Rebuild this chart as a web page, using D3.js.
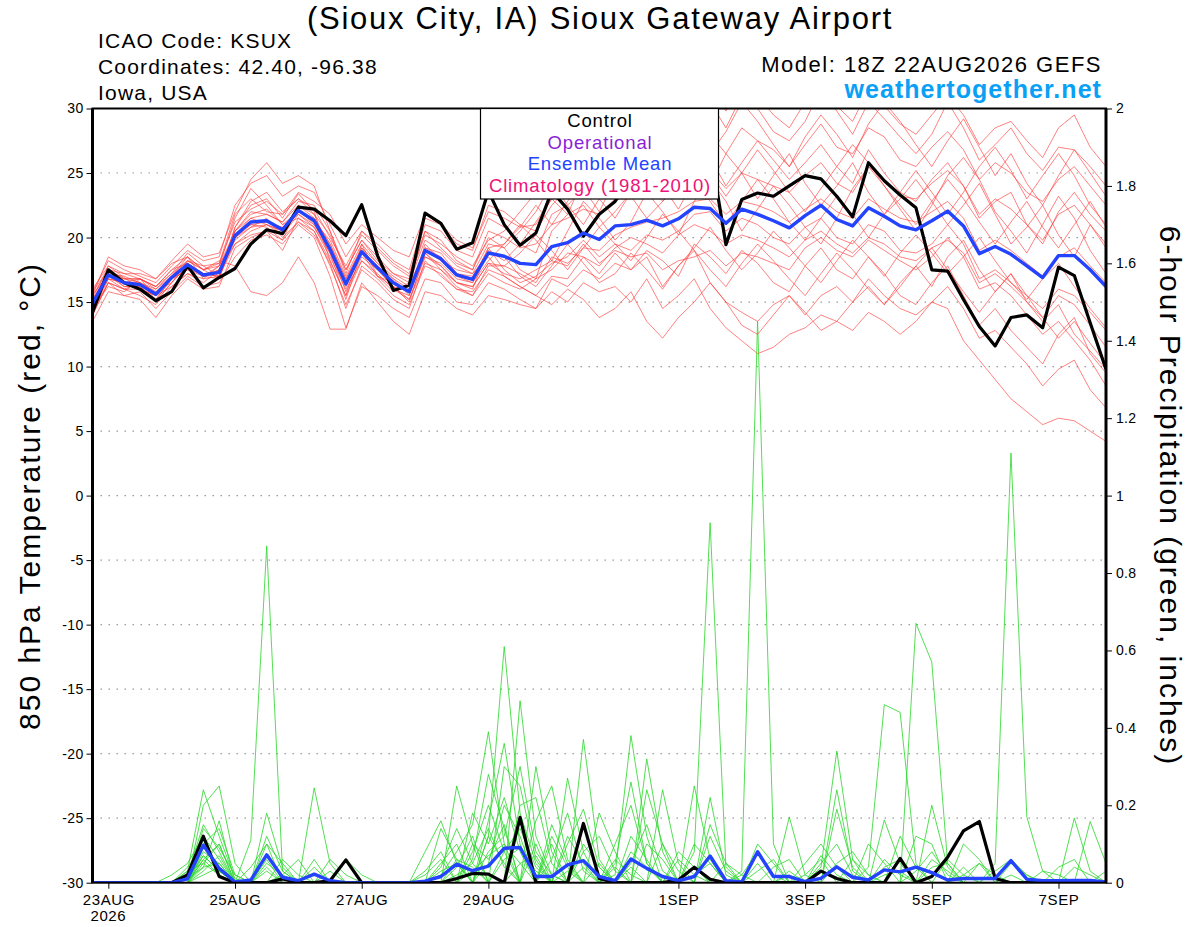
<!DOCTYPE html>
<html><head><meta charset="utf-8">
<script src="https://cdn.jsdelivr.net/npm/d3@7"></script>
<style>
body{margin:0;background:#fff}
svg{display:block}
text{font-family:"Liberation Sans",Arial,Helvetica,sans-serif}
</style>
</head><body>
<svg id="chart" width="1200" height="927"></svg>
<script>
// ---------------- DATA ----------------
const runStart = "2026-08-22T18:00:00Z";   // first forecast step
const stepHours = 6;
const xTickDates  = ["2026-08-23","2026-08-25","2026-08-27","2026-08-29","2026-09-01","2026-09-03","2026-09-05","2026-09-07"];
const xTickLabels = ["23AUG","25AUG","27AUG","29AUG","1SEP","3SEP","5SEP","7SEP"];
const tempTicks   = [-30,-25,-20,-15,-10,-5,0,5,10,15,20,25,30];
const gridTemps   = [-25,-20,-15,-10,-5,0,5,10,15,20,25];
const precipTicks = [0,0.2,0.4,0.6,0.8,1,1.2,1.4,1.6,1.8,2];

const titleText = "(Sioux City, IA) Sioux Gateway Airport";
const infoLeft  = ["ICAO Code: KSUX","Coordinates: 42.40, -96.38","Iowa, USA"];
const modelText = "Model: 18Z 22AUG2026 GEFS";
const siteText  = "weathertogether.net";
const legendItems = ["Control","Operational","Ensemble Mean","Climatology (1981-2010)"];

// 850 hPa temperature, control run (black)
const controlTemp = [14.2,17.5,16.5,16.0,15.1,15.8,17.8,16.1,16.9,17.6,19.5,20.6,20.3,
 22.35,22.2,21.3,20.15,22.55,18.6,15.9,16.3,21.9,21.1,19.1,19.6,23.6,
 21.0,19.4,20.35,23.6,22.2,20.1,21.8,22.8,24.5,25.5,24.8,25.6,26.2,
 26.9,19.45,22.95,23.45,23.2,24.0,24.8,24.55,23.2,21.6,25.8,24.4,23.3,
 22.3,17.5,17.4,15.2,13.1,11.6,13.8,14.0,13.0,17.7,17.05,13.4,9.8];
// ensemble mean (blue)
const meanTemp = [14.9,17.1,16.5,16.35,15.6,16.9,17.9,17.1,17.3,20.15,21.2,21.3,20.6,
 22.1,21.3,19.1,16.4,18.9,17.65,16.5,15.8,19.0,18.35,17.1,16.75,18.8,
 18.55,18.0,17.9,19.3,19.6,20.35,19.85,20.9,21.0,21.35,20.9,21.45,22.35,
 22.25,21.1,22.2,21.8,21.3,20.75,21.7,22.5,21.4,20.9,22.3,21.65,20.9,
 20.6,21.3,22.05,20.9,18.75,19.3,18.7,17.8,16.9,18.6,18.6,17.5,16.2];
// ensemble members (red)
const memberTemp = [
 [15.2,17.8,16.9,16.0,15.1,16.5,18.2,17.5,16.8,20.8,22.5,23.0,21.5, 23.4,22.0,18.2,15.5,19.5,17.0,15.8,16.5,20.5,19.8,18.2,17.5,20.0, 19.2,17.5,16.8,20.5,21.8,22.5,20.8,22.0,23.5,24.2,22.8,24.0,25.5, 26.2,24.0,25.8,27.5,26.0,24.5,25.8,27.2,25.5,24.2,26.8,25.0,23.5, 22.8,24.5,25.8,24.0,21.5,22.8,23.5,21.0,19.5,22.0,23.5,21.8,20.5],
 [14.5,16.2,15.8,16.8,16.2,17.5,18.5,16.8,17.8,21.5,23.8,22.5,21.0, 21.5,20.5,17.8,14.8,17.5,16.5,15.2,14.5,18.2,17.0,16.0,15.8,17.5, 17.0,16.2,15.5,17.0,16.8,18.5,17.2,18.8,17.5,19.0,18.2,17.0,19.5, 18.5,17.2,19.0,18.0,16.5,15.8,17.8,19.2,17.5,16.8,18.5,17.2,15.5, 14.8,16.5,17.8,15.5,13.2,14.5,12.8,11.5,10.2,12.5,13.8,11.0,9.5],
 [15.8,18.2,17.5,17.0,16.5,17.8,19.0,18.2,18.5,22.5,24.2,24.8,23.2, 24.0,23.5,21.0,18.5,20.5,19.2,18.0,17.2,21.0,20.5,19.0,18.5,21.5, 20.8,19.5,18.8,21.8,22.5,23.8,22.0,24.5,25.8,27.0,25.5,28.0,29.5, 30.5,28.5,31.0,30.0,28.2,27.5,29.0,31.5,29.8,28.0,30.5,29.2,27.8, 26.5,28.0,30.5,28.5,26.0,27.2,28.5,26.5,25.2,27.0,26.8,25.5,24.0],
 [14.0,16.5,15.5,15.8,14.5,15.8,17.0,16.2,16.5,18.5,19.8,20.2,19.5, 21.0,20.0,17.0,13.0,16.2,15.5,14.5,13.8,16.8,16.5,15.0,14.8,16.5, 16.0,15.2,14.5,16.8,16.2,17.5,16.8,18.0,17.5,18.5,16.2,17.8,19.0, 16.5,15.0,14.2,13.5,14.8,15.5,14.0,15.5,16.2,15.0,16.8,15.5,14.5, 14.0,15.0,14.5,12.0,10.5,9.0,7.5,6.5,5.5,6.0,5.8,5.0,4.2],
 [15.5,17.2,17.0,16.5,16.0,17.2,18.8,17.8,17.0,20.5,22.0,21.8,21.2, 22.8,22.5,20.5,17.5,19.8,18.5,17.2,16.8,20.2,19.5,18.5,17.8,19.8, 20.5,22.0,23.5,25.8,27.5,26.0,28.2,29.0,27.5,26.0,28.5,27.0,25.5, 24.0,26.5,25.0,23.0,24.8,26.5,24.2,22.5,24.0,25.8,23.5,21.8,23.0, 24.5,22.8,21.0,22.5,24.2,21.8,19.5,20.8,22.5,20.2,18.5,21.0,19.2],
 [14.8,17.0,16.2,16.2,15.2,16.8,17.5,17.0,17.8,20.0,21.0,20.8,19.8, 22.5,21.5,19.5,16.8,19.2,18.0,16.8,15.5,19.5,18.2,17.5,17.2,18.5, 17.0,16.2,15.5,14.8,16.0,15.2,13.8,14.5,15.8,13.5,12.2,13.8,15.0, 16.5,15.0,13.2,12.5,14.0,15.5,14.2,12.8,13.5,15.0,16.2,14.8,16.5, 17.8,16.2,18.5,19.8,17.5,15.8,17.2,15.0,13.5,14.8,12.5,11.2,9.8],
 [15.0,17.5,16.8,16.5,15.8,17.0,18.0,17.2,17.0,20.8,22.8,23.5,22.0, 23.0,21.8,19.0,15.8,18.5,17.5,16.2,15.0,18.8,17.8,16.5,16.0,19.2, 17.5,16.5,17.0,18.0,18.5,19.8,18.5,19.5,19.0,20.2,19.8,20.5,21.8, 22.0,20.5,21.5,21.0,20.0,19.5,20.8,21.5,20.0,19.5,21.0,20.5,19.0, 18.8,19.5,21.0,19.5,16.8,17.5,16.5,15.5,14.5,16.0,15.5,14.2,12.8],
 [13.5,15.8,15.5,15.2,13.8,15.5,16.8,16.0,16.2,19.2,20.0,20.5,19.0, 21.5,20.8,18.5,16.0,18.2,17.2,16.0,15.2,18.0,17.5,16.2,15.5,17.8, 17.8,17.2,16.5,18.5,18.0,19.2,19.0,20.2,20.8,21.2,21.5,22.0,22.8, 23.0,21.8,22.8,22.5,22.0,21.2,22.2,23.0,22.0,21.5,23.0,22.2,21.5, 21.2,22.0,22.8,21.5,19.0,19.8,19.0,18.0,17.0,18.5,19.2,17.8,16.5],
 [16.0,17.8,17.2,17.2,16.8,18.0,18.5,17.5,18.0,21.8,23.0,22.0,21.8, 23.5,22.8,21.8,19.5,21.0,20.0,19.0,18.5,21.8,21.0,19.8,19.2,22.0, 21.5,20.8,21.0,23.0,23.5,24.8,23.2,25.0,24.5,26.0,25.2,26.5,27.8, 28.0,26.5,28.5,27.5,26.8,25.5,27.2,28.8,27.0,26.5,28.5,27.8,26.0, 25.5,27.0,28.2,26.8,24.5,25.8,25.0,23.5,22.8,24.5,25.5,24.0,22.5],
 [14.2,16.8,16.0,16.0,15.5,16.2,17.2,16.5,17.5,19.5,20.5,21.0,20.2, 21.8,20.8,18.8,16.2,18.8,17.0,16.5,15.8,18.5,18.0,16.8,16.5,18.2, 19.5,21.0,19.8,18.2,20.5,22.8,21.5,19.8,21.2,23.5,22.0,20.2,22.8, 24.5,22.8,20.5,22.2,24.0,22.5,20.8,19.5,21.5,23.8,25.5,24.0,22.2, 20.5,22.5,24.8,26.2,24.5,22.0,20.5,18.8,21.0,23.2,21.5,19.0,17.2],
 [14.8,16.8,16.5,16.8,15.5,17.0,18.5,17.5,18.2,17.8,15.8,15.5,16.5, 18.5,16.5,12.9,12.9,16.5,15.0,13.5,12.5,15.8,15.5,14.5,14.0,15.5, 15.2,14.8,14.5,15.8,15.0,16.5,15.8,16.2,15.0,16.8,14.5,15.5,16.8, 14.5,13.0,12.0,11.0,11.5,12.5,13.0,14.0,13.5,12.8,14.2,13.5,12.5, 13.5,15.0,16.2,14.5,12.2,12.8,11.5,10.2,8.5,9.8,10.5,8.2,6.8],
 [15.5,18.5,17.8,17.5,16.8,18.2,19.5,18.5,18.8,22.0,24.5,25.8,24.2, 24.8,24.0,20.5,17.2,20.5,19.5,18.2,17.5,21.5,21.0,19.5,19.0,22.5, 22.0,21.0,20.5,22.5,23.8,25.5,24.0,26.0,27.2,28.5,27.0,29.5,31.0, 31.5,29.8,32.0,31.0,29.5,28.5,30.5,32.0,30.2,29.0,31.5,30.2,28.8, 28.0,29.5,31.0,29.5,27.2,28.5,29.0,27.5,26.2,28.5,29.5,27.0,25.5],
 [14.5,17.2,16.2,16.2,15.0,16.5,17.8,17.0,16.8,20.2,21.5,21.0,20.5, 22.2,21.0,18.8,15.2,19.0,17.8,16.0,15.5,18.8,17.5,16.5,16.2,18.0, 17.2,16.8,17.5,18.2,17.8,19.5,18.0,19.0,18.5,18.8,17.5,18.2,18.5, 19.0,17.8,18.8,18.5,18.0,17.5,19.2,20.0,19.0,18.5,19.8,19.0,18.2, 17.5,18.5,20.0,18.5,16.0,16.5,15.5,14.0,12.5,13.5,12.0,10.5,8.5],
 [15.2,17.0,16.8,16.8,16.2,17.5,18.0,17.0,17.5,20.5,21.8,22.2,21.0, 22.0,21.2,19.8,17.0,19.5,18.0,17.0,16.2,19.2,18.5,17.2,17.0,19.0, 18.2,19.5,21.2,23.0,21.8,24.5,26.2,25.0,27.0,28.8,27.2,29.5,28.0, 26.5,28.2,30.5,29.0,27.2,25.5,27.8,29.5,28.0,26.2,28.8,30.5,29.0, 27.2,25.5,27.5,29.2,27.0,24.8,26.5,24.2,22.5,24.8,26.8,25.0,23.2],
 [14.0,16.5,16.0,15.5,14.8,16.2,17.2,16.8,17.0,19.8,20.8,21.5,20.0, 21.2,20.2,18.0,14.5,17.8,16.8,15.5,14.8,17.8,17.2,16.0,15.5,17.2, 16.5,16.0,16.8,17.5,18.8,18.5,17.8,19.2,20.0,19.5,18.8,20.2,21.0, 20.5,19.5,20.2,19.8,19.2,18.5,19.8,20.5,19.5,18.8,20.0,19.5,18.5, 18.2,19.2,19.8,18.8,16.5,17.2,16.2,15.0,13.8,15.5,14.8,13.2,11.5],
 [15.8,17.5,17.2,16.8,16.0,17.0,18.2,17.8,18.0,21.2,22.2,22.8,21.8, 23.0,22.2,20.0,17.8,20.2,19.0,17.8,17.0,20.5,19.2,18.0,17.5,20.5, 20.0,19.2,19.5,21.0,21.5,22.2,21.8,23.0,23.0,24.0,23.5,24.2,25.8, 25.2,23.8,25.0,24.5,24.0,23.5,24.8,25.8,24.2,23.5,25.5,24.5,23.2, 23.0,24.2,25.2,24.0,21.8,23.0,22.2,21.0,19.8,21.8,22.5,21.0,19.5],
 [14.6,16.8,16.5,16.0,15.5,16.8,17.5,17.2,17.2,20.2,21.0,21.2,20.8, 21.8,21.0,19.2,16.5,18.8,17.8,16.8,16.0,19.0,18.2,17.0,16.5,18.8, 18.5,17.0,16.2,17.8,19.5,18.0,16.5,17.2,18.8,17.5,16.0,17.8,19.2, 20.8,19.0,17.5,18.8,20.5,19.2,17.8,16.5,18.2,19.8,18.5,17.0,18.8, 20.2,18.8,17.2,18.5,20.0,18.2,16.5,15.2,16.8,18.0,16.2,14.5,13.0],
 [15.0,17.2,16.5,16.5,15.8,16.5,17.8,17.0,17.5,20.0,20.8,21.0,20.5, 22.0,21.5,19.5,16.8,19.2,17.5,16.2,15.8,19.2,18.8,17.2,16.8,19.2, 19.5,20.8,22.5,21.0,22.8,24.5,23.0,21.5,23.5,25.2,24.0,22.2,24.5, 22.8,21.0,22.8,24.5,23.0,21.2,19.8,21.5,23.2,21.8,20.0,21.8,23.5, 25.2,23.5,21.8,23.5,25.5,27.0,25.2,23.0,24.8,26.5,24.8,22.5,21.0],
 [14.3,16.5,16.0,16.5,15.2,16.8,18.0,17.2,17.0,19.5,20.2,20.5,19.8, 21.2,20.5,18.2,15.5,18.2,17.0,16.2,15.2,18.5,17.8,16.5,16.2,18.0, 17.8,18.8,20.2,19.0,17.5,19.2,20.8,19.5,18.2,20.0,21.8,20.5,19.0, 17.5,16.2,18.0,19.5,18.2,16.8,15.5,17.2,18.8,17.5,16.0,14.8,16.2, 17.8,19.2,17.5,15.8,14.2,15.8,17.2,15.5,13.8,12.2,13.5,11.8,10.2],
 [15.5,17.5,16.8,16.8,16.2,17.2,18.2,17.5,17.8,20.5,21.5,21.8,21.2, 22.5,21.8,20.2,17.5,19.8,18.2,17.2,16.5,19.8,19.0,17.8,17.2,19.5, 19.2,20.5,22.0,24.2,22.5,21.0,23.0,24.8,23.2,21.5,22.8,24.5,26.2, 25.0,23.2,25.0,26.8,25.2,23.5,22.0,23.8,25.5,27.2,25.8,24.0,22.5, 21.0,22.8,24.5,23.0,21.2,19.5,21.2,22.8,20.8,19.2,21.0,22.8,20.8]
];

// 6-hour precipitation (inches), control (black) and ensemble mean (blue)
const controlPrecip = [0,0,0,0,0,0,0.02,0.12,0.016,0,0,0,0.01,
 0,0,0.005,0.059,0,0,0,0,0,0,0.011,0.024,0.022,
 0,0.169,0,0,0,0.153,0.011,0,0,0,0,0.007,0.04,
 0.009,0,0,0,0,0,0,0.03,0.011,0,0,0,0.063,
 0,0.016,0.066,0.134,0.158,0.011,0,0,0,0,0,0,0];
const meanPrecip = [0,0,0,0,0,0,0.01,0.097,0.037,0.002,0.007,0.072,0.014,
 0.005,0.022,0.005,0,0,0,0,0,0.004,0.016,0.048,0.031,0.043,
 0.089,0.091,0.016,0.016,0.046,0.057,0.016,0.005,0.061,0.037,0.016,0.005,0.016,
 0.069,0.005,0.002,0.08,0.016,0.016,0.003,0.011,0.041,0.014,0.007,0.033,0.028,
 0.04,0.026,0.007,0.011,0.011,0.011,0.057,0.009,0.005,0.005,0.006,0.006,0.002];
// ensemble members (green)
const memberPrecip = [
 [0,0,0,0,0,0,.03,.24,.12,.01,0,0,0, 0,0,0,0,0,0,0,0,0,.02,.08,.15,.39, .10,.05,0,0,.03,0,0,.02,.38,.12,0,0,.02, .05,0,0,0,0,0,0,.04,.34,.06,0,0,0, 0,0,0,.02,.05,0,0,0,0,0,0,0,0],
 [0,0,0,0,0,0,0,.20,.25,.05,0,.05,.02, 0,0,0,0,0,0,0,0,0,0,0,0,.12, .61,.18,.05,0,0,.10,.04,0,0,0,0,0,0, 0,0,.03,1.45,.10,0,0,0,0,0,0,.02,.03, 0,0,0,0,0,0,0,0,0,0,0,0,0],
 [0,0,0,0,0,0,0,0,0,0,.11,.87,.03, 0,0,0,0,0,0,0,0,0,0,.25,.10,0, 0,.47,.12,.02,0,0,0,0,0,.32,.08,0,0, 0,0,0,0,0,.17,.02,0,0,0,0,0,0, .67,.57,.05,0,0,0,.02,0,0,0,0,0,0],
 [0,0,0,0,0,0,.02,.15,.08,0,0,0,0, 0,.245,.05,0,0,0,0,0,.08,.16,.05,0,0, 0,0,.30,.08,0,0,0,.05,.26,.05,0,0,0, 0,0,0,0,0,0,0,0,0,0,.04,.46,.44, .05,0,0,0,0,.05,1.11,.17,.03,0,0,0,0],
 [0,0,0,0,0,.02,.05,.12,.06,0,0,.18,.04, 0,0,0,0,0,0,0,0,0,0,0,.18,.10, .22,.08,0,0,.27,.08,0,0,0,0,0,0,.08, .93,.04,0,0,0,0,0,0,.24,.03,0,0,0, 0,0,0,0,0,0,0,0,0,0,.167,.03,0],
 [0,0,0,0,0,0,0,.09,.04,0,0,.12,.03, 0,0,0,.06,.02,0,0,0,0,.14,.06,0,0, .30,.25,.06,0,0,.37,.06,0,0,0,.24,.05,0, .22,.02,0,0,0,0,0,0,.19,.04,0,0,0, 0,.20,.04,0,0,0,0,0,0,0,0,.158,.05],
 [0,0,0,0,0,0,.01,.07,.03,0,0,0,0, 0,0,.06,.02,0,0,0,0,0,0,0,0,.05, .20,.12,0,.15,.05,0,0,0,0,.24,.10,0,0, 0,0,0,.10,.05,0,0,0,0,0,0,.162,.05, 0,0,0,0,0,0,0,0,0,0,0,0,0],
 [0,0,0,0,0,0,0,.05,.02,0,0,.06,0, 0,0,0,0,0,0,0,0,0,0,0,.06,.28, .14,0,0,.10,0,0,.18,.08,0,0,0,0,.25, .06,0,0,0,0,0,0,.07,.02,0,0,0,0, 0,0,0,.10,.06,0,0,0,0,0,0,0,0],
 [0,0,0,0,0,0,.04,.10,.14,.02,0,0,.02, .06,0,0,0,0,0,0,0,0,0,.04,.12,0, 0,.20,.22,.05,0,0,0,0,.12,.06,0,0,0, 0,0,0,0,.04,.06,0,0,0,0,0,0,.12, .04,0,0,0,0,0,0,0,0,.04,.06,0,0],
 [0,0,0,0,0,0,0,.06,.10,0,0,.10,.05, 0,0,0,0,0,0,0,0,0,.05,.10,0,.16, .36,.10,0,0,.10,.19,.04,0,0,0,0,.06,.02, 0,0,0,.05,0,0,0,0,0,.06,.02,0,0, 0,0,0,0,.05,.02,0,0,0,0,0,0,0],
 [0,0,0,0,0,0,0,.04,.16,0,0,0,0, 0,.06,0,0,0,0,0,0,.02,.06,0,.08,.20, .08,0,0,0,0,0,0,.10,.20,.05,0,0,0, 0,.05,.02,0,0,0,0,0,0,0,0,0,0, .12,.10,0,0,0,0,0,0,.03,.02,0,0,0],
 [0,0,0,0,0,0,0,.08,.05,0,.04,.10,0, 0,0,0,0,0,0,0,0,0,0,0,0,.08, .12,.30,.08,.02,0,0,0,0,.05,.15,.03,0,0, 0,0,0,0,0,0,.05,.10,.04,0,0,0,0, 0,0,.06,.02,0,0,0,0,0,0,0,0,0],
 [0,0,0,0,0,0,.02,.11,.03,0,0,0,0, 0,0,0,0,0,0,0,0,0,.04,.14,.05,0, 0,0,.16,.25,.06,0,0,0,0,0,.10,.03,0, .12,.03,0,0,0,0,0,0,0,0,.10,.05,0, 0,0,0,0,0,0,.05,.02,0,0,0,0,0],
 [0,0,0,0,0,0,0,.03,.07,0,0,0,.06, .02,0,0,0,0,0,0,0,0,0,0,.10,.06, .15,0,0,0,0,.08,.12,.03,0,0,0,0,.04, 0,0,0,0,0,0,0,.05,.10,.02,0,0,0, 0,.06,.03,0,0,0,0,0,0,0,0,0,0],
 [0,0,0,0,0,0,0,.14,.09,.02,0,0,0, 0,0,.03,0,0,0,0,0,0,0,.06,.04,0, .08,.14,.04,0,.12,.05,0,0,0,0,0,.08,.04, 0,0,0,0,0,.03,0,0,0,0,0,.06,.02, 0,0,0,0,0,0,0,0,0,0,0,0,0],
 [0,0,0,0,0,0,0,.06,.02,0,0,.03,0, 0,0,0,0,0,0,0,0,.03,.08,0,0,.12, .05,0,0,.06,.18,.03,0,0,.08,.04,0,0,0, .15,.05,0,0,0,0,.02,.06,0,0,0,0,0, .03,.08,.02,0,0,0,0,0,0,0,0,0,0],
 [0,0,0,0,0,0,.03,.05,.10,0,0,0,0, 0,.04,0,0,0,0,0,0,0,0,.02,.05,.14, .04,0,.10,0,0,0,0,.06,.02,0,0,0,0, 0,0,0,.03,.06,0,0,0,0,0,0,0,0, 0,0,0,0,0,.03,.06,.02,0,0,0,0,0],
 [0,0,0,0,0,0,0,.02,.04,0,0,.04,0, 0,0,0,0,0,0,0,0,0,0,0,0,0, .06,.09,.03,0,0,0,.05,0,0,.10,.06,0,0, 0,0,0,0,0,.02,0,0,.05,.08,.02,0,0, 0,0,0,0,0,0,0,0,0,0,.04,.02,0],
 [0,0,0,0,0,0,0,.07,.03,0,0,0,0, 0,0,0,0,0,0,0,0,0,0,0,.03,.07, .10,0,0,.12,.04,0,0,0,.04,0,0,0,.10, .05,0,0,0,0,0,0,0,0,0,0,.04,.06, 0,0,0,.04,0,0,0,0,0,0,0,0,0],
 [0,0,0,0,0,0,.01,.04,.05,0,0,0,0, 0,0,0,0,0,0,0,0,0,.03,.05,0,0, 0,.05,.07,0,0,.04,0,.04,0,0,0,0,0, 0,0,.02,.08,.02,0,0,0,0,0,0,0,0, 0,.04,.05,0,0,0,0,0,0,0,0,0,.03]
];

// ---------------- CHART ----------------
const svg = d3.select("#chart");
const plot = {left: 92.5, right: 1106, top: 108.5, bottom: 882.7};
const t0 = new Date(runStart);
const timeAt = i => new Date(t0.getTime() + i*stepHours*3600e3);
const nSteps = controlTemp.length;

const x  = d3.scaleUtc().domain([timeAt(0), timeAt(nSteps-1)]).range([plot.left, plot.right]);
const yT = d3.scaleLinear().domain([-30,30]).range([plot.bottom, plot.top]);
const yP = d3.scaleLinear().domain([0,2]).range([plot.bottom, plot.top]);

svg.append("rect").attr("width",1200).attr("height",927).attr("fill","#fff");

svg.append("defs").append("clipPath").attr("id","clip")
  .append("rect").attr("x",plot.left).attr("y",plot.top)
  .attr("width",plot.right-plot.left).attr("height",plot.bottom-plot.top);

// grid
svg.append("g").selectAll("line").data(gridTemps).join("line")
  .attr("x1",plot.left).attr("x2",plot.right)
  .attr("y1",d=>yT(d)).attr("y2",d=>yT(d))
  .attr("stroke","#9a9a9a").attr("stroke-width",1.2).attr("stroke-dasharray","1.5,6.5");

const g = svg.append("g").attr("clip-path","url(#clip)");
const lineT = d3.line().x((d,i)=>x(timeAt(i))).y(d=>yT(d));
const lineP = d3.line().x((d,i)=>x(timeAt(i))).y(d=>yP(d));

g.selectAll(".gm").data(memberPrecip).join("path").attr("class","gm")
  .attr("d",lineP).attr("fill","none").attr("stroke","#2ad82a").attr("stroke-width",0.9).attr("stroke-opacity",0.9);
g.selectAll(".rm").data(memberTemp).join("path").attr("class","rm")
  .attr("d",lineT).attr("fill","none").attr("stroke","#ff3838").attr("stroke-width",0.9).attr("stroke-opacity",0.7);

g.append("path").attr("d",lineP(controlPrecip)).attr("fill","none").attr("stroke","#000").attr("stroke-width",3.2).attr("stroke-linejoin","round");
g.append("path").attr("d",lineP(meanPrecip)).attr("fill","none").attr("stroke","#2343ff").attr("stroke-width",3.4).attr("stroke-linejoin","round");
g.append("path").attr("d",lineT(controlTemp)).attr("fill","none").attr("stroke","#000").attr("stroke-width",3.2).attr("stroke-linejoin","round");
g.append("path").attr("d",lineT(meanTemp)).attr("fill","none").attr("stroke","#2343ff").attr("stroke-width",3.4).attr("stroke-linejoin","round");

// axes
const fmtLab = d => String(d);
const axL = svg.append("g").attr("transform",`translate(${plot.left},0)`)
  .call(d3.axisLeft(yT).tickValues(tempTicks).tickFormat(fmtLab).tickSize(6).tickPadding(3));
const axR = svg.append("g").attr("transform",`translate(${plot.right},0)`)
  .call(d3.axisRight(yP).tickValues(precipTicks).tickFormat(d3.format("~g")).tickSize(6).tickPadding(4));
const tickDates = xTickDates.map(s=>new Date(s+"T00:00:00Z"));
const axB = svg.append("g").attr("transform",`translate(0,${plot.bottom})`)
  .call(d3.axisBottom(x).tickValues(tickDates).tickFormat((d,i)=>xTickLabels[i]).tickSize(6).tickPadding(6));
[axL,axR,axB].forEach(a=>{
  a.select(".domain").remove();
  a.selectAll("text").attr("font-family",'"Liberation Sans",Arial,sans-serif').attr("fill","#000");
  a.selectAll("line").attr("stroke","#000");
});
axL.selectAll("text").attr("font-size",14).attr("letter-spacing",0.3);
axR.selectAll("text").attr("font-size",14).attr("letter-spacing",0.3);
axB.selectAll("text").attr("font-size",15).attr("letter-spacing",0.6);
svg.append("text").attr("x",x(tickDates[0])).attr("y",921).attr("text-anchor","middle")
  .attr("font-size",15).attr("letter-spacing",0.6).text("2026");

// frame
svg.append("rect").attr("x",plot.left).attr("y",plot.top)
  .attr("width",plot.right-plot.left).attr("height",plot.bottom-plot.top)
  .attr("fill","none").attr("stroke","#000").attr("stroke-width",2);
svg.append("line").attr("x1",plot.left).attr("x2",plot.left).attr("y1",plot.top).attr("y2",plot.bottom).attr("stroke","#000").attr("stroke-width",3);
svg.append("line").attr("x1",plot.right).attr("x2",plot.right).attr("y1",plot.top).attr("y2",plot.bottom).attr("stroke","#000").attr("stroke-width",3);

// legend
const lg = svg.append("g");
lg.append("rect").attr("x",480.5).attr("y",plot.top).attr("width",238).attr("height",90.5)
  .attr("fill","#fff").attr("stroke","#000").attr("stroke-width",1.2);
const legendColors = ["#000000","#8a1fd8","#2343ff","#ee1177"];
const legendY = [127,148.5,170,192];
lg.selectAll("text").data(legendItems).join("text")
  .attr("x",600).attr("y",(d,i)=>legendY[i]).attr("text-anchor","middle")
  .attr("font-size",18.5).attr("letter-spacing",0.85)
  .attr("fill",(d,i)=>legendColors[i]).text(d=>d);

// titles
svg.append("text").attr("x",600).attr("y",29).attr("text-anchor","middle")
  .attr("font-size",31).attr("letter-spacing",1.75).text(titleText);
svg.selectAll(".info").data(infoLeft).join("text").attr("class","info")
  .attr("x",98).attr("y",(d,i)=>48+i*26).attr("font-size",21).attr("letter-spacing",1.2).text(d=>d);
svg.append("text").attr("x",1102).attr("y",72).attr("text-anchor","end")
  .attr("font-size",22).attr("letter-spacing",1.5).text(modelText);
svg.append("text").attr("x",1102).attr("y",98).attr("text-anchor","end")
  .attr("font-size",25).attr("font-weight","bold").attr("letter-spacing",1.05)
  .attr("fill","#09a0f6").text(siteText);

svg.append("text").attr("transform","translate(40,496) rotate(-90)").attr("text-anchor","middle")
  .attr("font-size",30).attr("letter-spacing",2.0).text("850 hPa Temperature (red, °C)");
svg.append("text").attr("transform","translate(1160,496) rotate(90)").attr("text-anchor","middle")
  .attr("font-size",30).attr("letter-spacing",2.0).text("6-hour Precipitation (green, inches)");
</script>
</body></html>
